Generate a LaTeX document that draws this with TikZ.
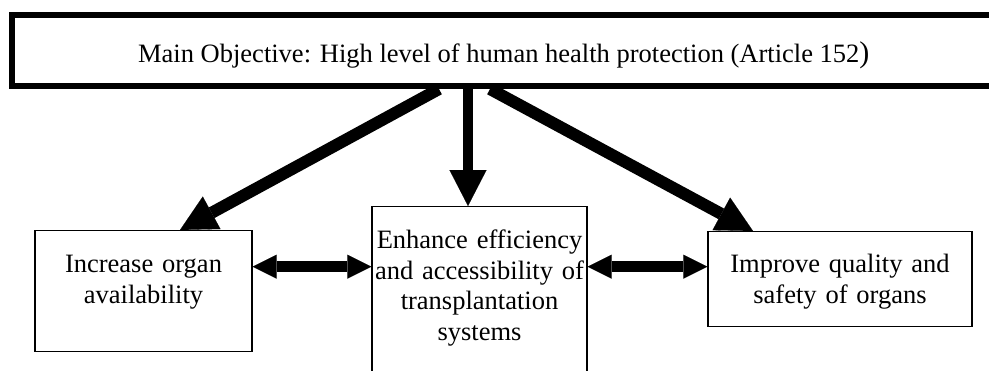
\documentclass[tikz,border=0pt]{standalone}
\usepackage{fontspec}
\setmainfont{Liberation Serif}
\usetikzlibrary{arrows.meta}
\tikzset{
	goalbox/.style={draw, line width=6pt, minimum width=984.5pt, minimum height=71.5pt, inner sep=0pt, text height=25pt, text depth=1.5pt},
	aimbox/.style={draw, line width=1.4pt, align=center, inner xsep=1pt, inner ysep=0pt, anchor=north},
	bigarrow/.style={line width=12pt, arrows={-Triangle[length=36pt,width=37pt,line width=0.1pt]}},
	twoway/.style={line width=11pt, arrows={Triangle[length=24pt,width=24pt,line width=0.1pt]-Triangle[length=24pt,width=24pt,line width=0.1pt]}}
}

\begin{document}
\begin{tikzpicture}[x=1pt, y=-1pt, font=\fontsize{26.5}{30.5}\selectfont]
			%%%%% START %%%%%
			\useasboundingbox (0, 0) rectangle (989, 370);
			\clip (0, 0) rectangle (989, 370);
			
			\node[goalbox] (main) at (503.75, 50.25) {Main Objective: High level of human health protection (Article 152{\fontsize{30}{30}\selectfont)}};
			
			\node[aimbox, text width=205pt, minimum width=217pt, text height=42pt, text depth=79pt] (organ) at (143.5, 230) {Increase organ\\ availability};
			\node[aimbox, text width=213pt, minimum width=215pt, text height=42pt, text depth=200pt] (system) at (479.5, 206) {Enhance efficiency\\ and accessibility of\\ transplantation\\ systems};
			\node[aimbox, text width=250pt, minimum width=264pt, text height=41pt, text depth=54pt] (safety) at (840, 231) {Improve quality and\\ safety of organs};
			
			\draw[bigarrow] ([xshift=430.5pt]main.south west) -- ([xshift=36.5pt]organ.north);
			\draw[bigarrow, line width=10pt] ([xshift=-11.5pt]system.north |- main.south) -- ([xshift=-11.5pt]system.north);
			\draw[bigarrow] ([xshift=481.5pt]main.south west) -- ([xshift=-87pt]safety.north);
			
			\draw[twoway] ([yshift=24.5pt]organ.east) -- ([yshift=24.5pt]organ.east -| system.west);
			\draw[twoway] ([yshift=24.5pt]organ.east -| system.east) -- ([yshift=24.5pt]organ.east -| safety.west);
			
			%%%%% END %%%%%
\end{tikzpicture}
\end{document}
